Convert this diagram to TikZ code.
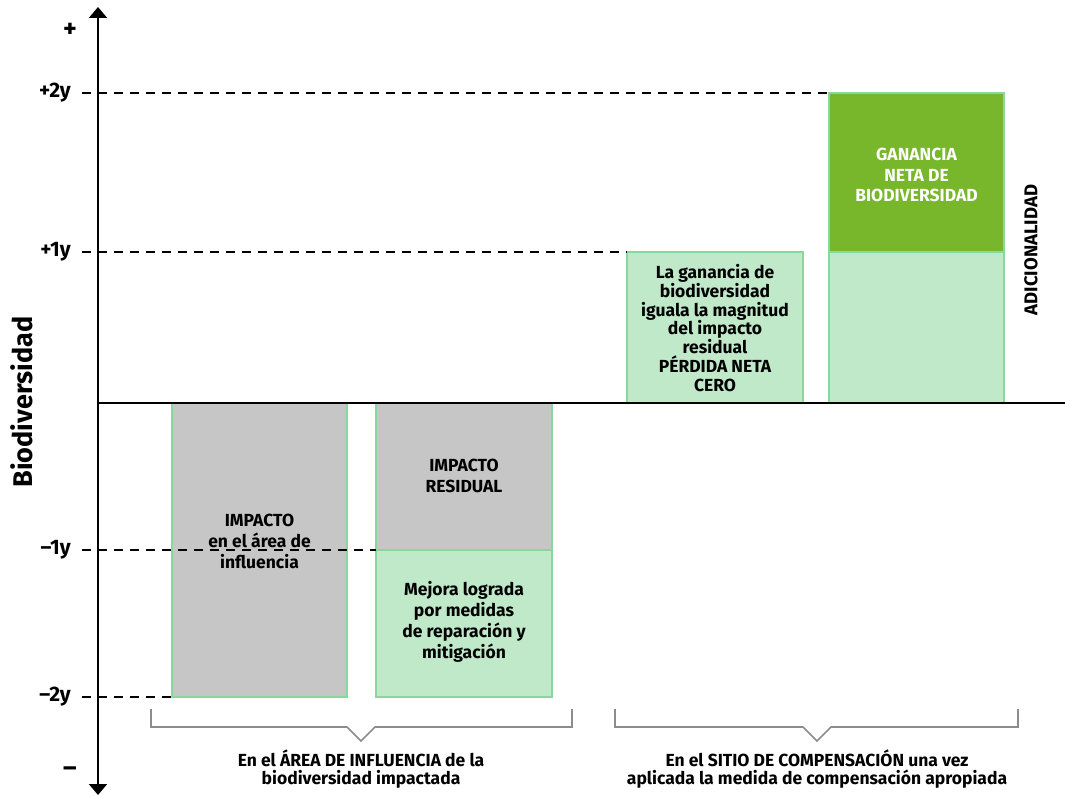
\documentclass[tikz,border=0pt]{standalone}
\usepackage{fontspec}
\setmainfont{Fira Sans}
\usetikzlibrary{arrows.meta}
\definecolor{grisbox}{HTML}{C6C6C6}
\definecolor{verdeclaro}{HTML}{BFE9C9}
\definecolor{verdeborde}{HTML}{86D89C}
\definecolor{verdeoscuro}{HTML}{78B72B}
\definecolor{grisllave}{HTML}{8C8C8C}
\tikzset{
  caja/.style={draw=verdeborde, line width=1.5pt},
  texto/.style={align=center, font=\bfseries\fontsize{17.5}{21}\selectfont, text=black},
  marca/.style={font=\bfseries\fontsize{21}{21}\selectfont, anchor=east, inner sep=0pt},
  guia/.style={dash pattern=on 9pt off 7pt, line width=1.3pt},
  llave/.style={draw=grisllave, line width=1.6pt},
}
\begin{document}
\begin{tikzpicture}[x=1pt, y=-1pt]
  \useasboundingbox (0,0) rectangle (1065,797);
  % cajas
  \fill[grisbox] (172,403) rectangle (347,697);
  \draw[caja] (172,403) rectangle (347,697);
  \fill[grisbox] (376,403) rectangle (552,550);
  \fill[verdeclaro] (376,550) rectangle (552,697);
  \draw[caja] (376,403) rectangle (552,697);
  \draw[caja] (376,550) -- (552,550);
  \fill[verdeclaro] (627,252) rectangle (803,403);
  \draw[caja] (627,252) rectangle (803,403);
  \fill[verdeoscuro] (829,93) rectangle (1004,252);
  \fill[verdeclaro] (829,252) rectangle (1004,403);
  \draw[caja] (829,93) rectangle (1004,403);
  \draw[caja] (829,252) -- (1004,252);
  % ejes
  \coordinate (arriba) at (98,7);
  \coordinate (abajo) at (98,795);
  \coordinate (origen) at (98,403);
  \coordinate (derecha) at (1065,403);
  \draw[line width=2pt, -{Triangle[width=18pt,length=11pt]}] (origen) -- (arriba);
  \draw[line width=2pt, -{Triangle[width=18pt,length=11pt]}] (origen) -- (abajo);
  \draw[line width=1.5pt] (origen) -- (derecha);
  % niveles
  \node[marca] (mas2) at (71,93) {+2y};
  \node[marca] (mas1) at (71,252) {+1y};
  \node[marca] (menos1) at (71,550) {–1y};
  \node[marca] (menos2) at (71,697) {–2y};
  \node[font=\bfseries\fontsize{26}{26}\selectfont] (mas) at (70,30) {+};
  \node[font=\bfseries\fontsize{26}{26}\selectfont] (menos) at (70,772) {–};
  \draw[guia] ([xshift=11pt]mas2.east) -- (829,93);
  \draw[guia] ([xshift=11pt]mas1.east) -- (627,252);
  \draw[guia] ([xshift=11pt]menos1.east) -- (376,550);
  \draw[guia] ([xshift=11pt]menos2.east) -- (172,697);
  \node[rotate=90, font=\bfseries\fontsize{27}{27}\selectfont] (biodiv) at (22,402) {Biodiversidad};
  % textos de las cajas
  \node[texto] (impacto) at (259.5,541) {IMPACTO\\en el área de\\influencia};
  \node[texto] (residual) at (464,476) {IMPACTO\\RESIDUAL};
  \node[texto] (mejora) at (464,622) {Mejora lograda\\por medidas\\de reparación y\\mitigación};
  \node[texto, font=\bfseries\fontsize{17.5}{18.8}\selectfont] (perdida) at (715,328) {La ganancia de\\biodiversidad\\iguala la magnitud\\del impacto\\residual\\PÉRDIDA NETA\\CERO};
  \node[texto, text=white, font=\bfseries\fontsize{17.5}{20.5}\selectfont] (ganancia) at (916.5,175) {GANANCIA\\NETA DE\\BIODIVERSIDAD};
  \node[rotate=90, font=\bfseries\fontsize{18.5}{18.5}\selectfont] (adicional) at (1031,250) {ADICIONALIDAD};
  % llaves
  \draw[llave] (151,709) -- (151,727) -- (347,727) -- (361,741) -- (375,727) -- (572,727) -- (572,709);
  \draw[llave] (615,709) -- (615,727) -- (803,727) -- (817,741) -- (831,727) -- (1018,727) -- (1018,709);
  \node[texto, font=\bfseries\fontsize{17.5}{18.5}\selectfont] (area) at (361,769) {En el ÁREA DE INFLUENCIA de la\\biodiversidad impactada};
  \node[texto, font=\bfseries\fontsize{17.5}{18.5}\selectfont] (sitio) at (817,769) {En el SITIO DE COMPENSACIÓN una vez\\aplicada la medida de compensación apropiada};
\end{tikzpicture}
\end{document}
